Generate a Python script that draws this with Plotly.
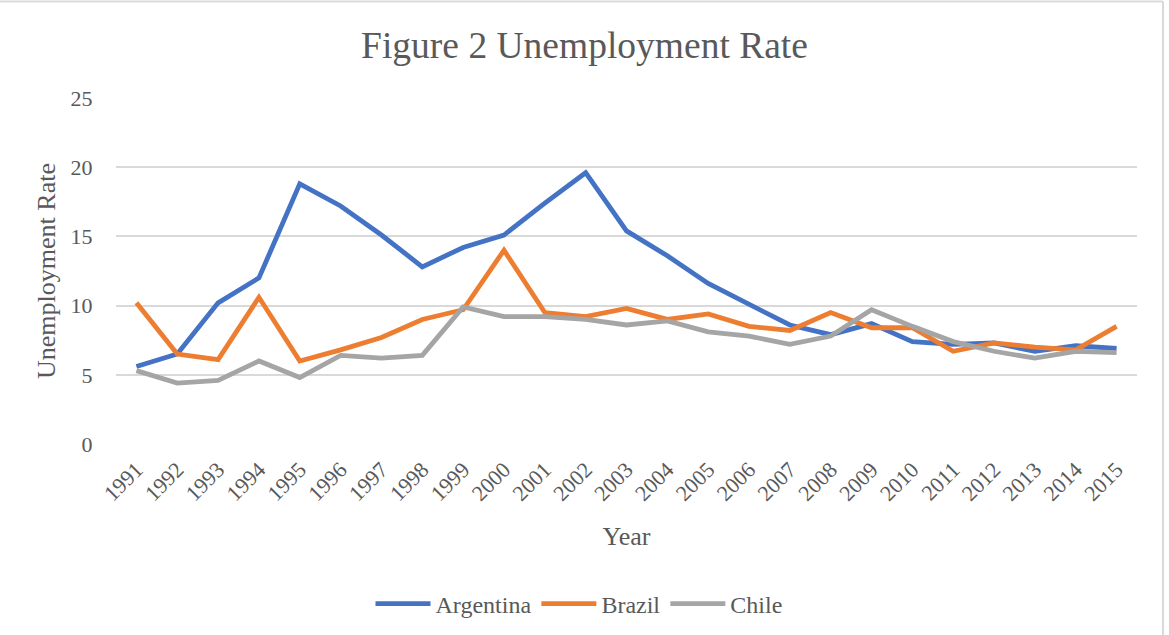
import plotly.graph_objects as go

years = [str(y) for y in range(1991, 2016)]
argentina = [5.6, 6.5, 10.2, 12.0, 18.8, 17.2, 15.1, 12.8, 14.2, 15.1, 17.4, 19.6,
             15.4, 13.6, 11.6, 10.1, 8.6, 7.9, 8.7, 7.4, 7.2, 7.3, 6.7, 7.1, 6.9]
brazil = [10.2, 6.5, 6.1, 10.6, 6.0, 6.8, 7.7, 9.0, 9.7, 14.0, 9.5, 9.2,
          9.8, 9.0, 9.4, 8.5, 8.2, 9.5, 8.4, 8.4, 6.7, 7.3, 7.0, 6.8, 8.5]
chile = [5.3, 4.4, 4.6, 6.0, 4.8, 6.4, 6.2, 6.4, 9.9, 9.2, 9.2, 9.0,
         8.6, 8.9, 8.1, 7.8, 7.2, 7.8, 9.7, 8.5, 7.4, 6.7, 6.2, 6.7, 6.6]

series = [("Argentina", argentina, "#4472C4"),
          ("Brazil", brazil, "#ED7D31"),
          ("Chile", chile, "#A5A5A5")]

FONT = "Liberation Serif"
TXT = "#595959"

fig = go.Figure()
for name, vals, col in series:
    fig.add_trace(go.Scatter(x=years, y=vals, name=name, mode="lines",
                             line=dict(color=col, width=4.8)))

W, H = 1169, 635
L, R, T, B = 116, 32, 98, 191
pw, ph = W - L - R, H - T - B

def px_x(p):
    return (p - L) / pw

def px_y(p):
    return (H - B - p) / ph

fig.update_layout(
    width=W, height=H,
    margin=dict(l=L, r=R, t=T, b=B, autoexpand=False),
    paper_bgcolor="white", plot_bgcolor="white",
    font=dict(family=FONT, color=TXT),
    title=dict(text="Figure 2 Unemployment Rate", x=0.5, xanchor="center",
               y=1 - 45 / H, yanchor="middle", automargin=False,
               font=dict(size=37.5, family=FONT, color=TXT)),
    legend=dict(orientation="h", x=px_x(579), xanchor="center",
                y=px_y(604), yanchor="middle", itemwidth=55,
                font=dict(size=24, family=FONT, color=TXT)),
    xaxis=dict(type="category", range=[-0.5, len(years) - 0.5], automargin=False,
               tickangle=-45, showgrid=False, showline=False,
               zeroline=False, tickfont=dict(size=22, family=FONT, color=TXT),
               ticks="outside", ticklen=3, tickcolor="rgba(0,0,0,0)",
               title=dict(text="Year", font=dict(size=26, family=FONT, color=TXT),
                          standoff=21)),
    yaxis=dict(range=[0, 25], dtick=5, showgrid=True, gridcolor="#D9D9D9",
               gridwidth=1.5, zeroline=False, showline=False, automargin=False,
               tickfont=dict(size=22, family=FONT, color=TXT),
               ticks="outside", ticklen=18, tickcolor="rgba(0,0,0,0)",
               title=dict(text="Unemployment Rate",
                          font=dict(size=26, family=FONT, color=TXT), standoff=7)),
)

# chart border (top and right edges visible)
fig.add_shape(type="line", xref="paper", yref="paper",
              x0=px_x(0), x1=px_x(1163), y0=px_y(1.5), y1=px_y(1.5),
              line=dict(color="#D9D9D9", width=2))
fig.add_shape(type="line", xref="paper", yref="paper",
              x0=px_x(1163), x1=px_x(1163), y0=px_y(1.5), y1=px_y(635),
              line=dict(color="#D9D9D9", width=2))

fig.write_html("out.html", config={"displayModeBar": False},
               post_script="document.body.style.margin='0';document.body.style.overflow='hidden';")
